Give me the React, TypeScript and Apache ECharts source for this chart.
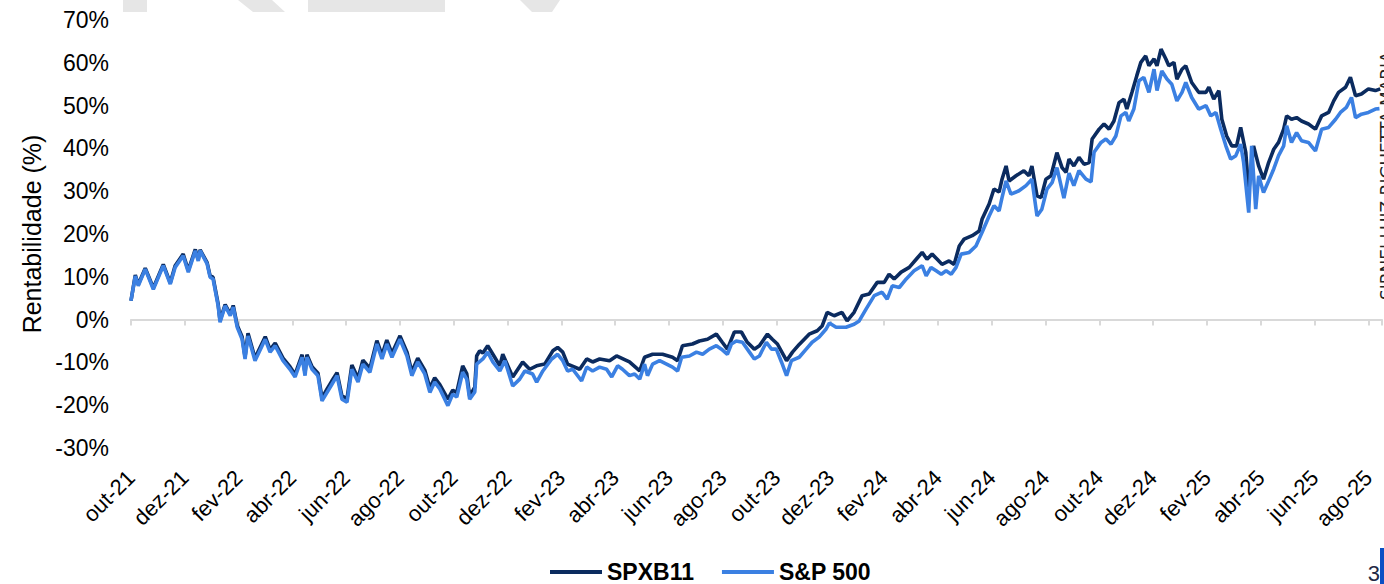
import React, { useEffect, useRef } from "react";
import * as echarts from "echarts";

const FONT = "'Liberation Sans', Arial, sans-serif";

// Tick labels (every two months, starting Oct 2021 = month 0)
const tickLabels = [
  "out-21", "dez-21", "fev-22", "abr-22", "jun-22", "ago-22", "out-22", "dez-22",
  "fev-23", "abr-23", "jun-23", "ago-23", "out-23", "dez-23", "fev-24", "abr-24",
  "jun-24", "ago-24", "out-24", "dez-24", "fev-25", "abr-25", "jun-25", "ago-25",
];

const seriesNames = ["SPXB11", "S&P 500"];

// [months since out-21, return %]
const spxb11Points: [number, number][] = [
  [0.0, 4.4], [0.16, 10.4], [0.27, 8.2], [0.53, 12.0], [0.83, 7.4], [1.2, 12.9], [1.46, 8.6], [1.64, 12.6],
  [1.94, 15.3], [2.13, 11.5], [2.39, 16.4], [2.5, 14.0], [2.57, 16.3], [2.83, 13.3], [2.94, 10.2], [3.05, 9.9],
  [3.24, 3.6], [3.31, -0.2], [3.5, 3.5], [3.69, 1.3], [3.8, 3.3], [3.95, -1.4], [4.13, -4.0], [4.24, -8.7],
  [4.35, -3.2], [4.61, -9.0], [4.99, -4.0], [5.17, -7.0], [5.36, -5.5], [5.65, -9.0], [5.91, -11.0], [6.1, -12.8],
  [6.36, -8.2], [6.47, -12.4], [6.54, -8.2], [6.73, -11.0], [6.95, -12.5], [7.1, -18.3], [7.29, -16.2], [7.47, -14.3],
  [7.66, -12.4], [7.84, -17.8], [8.03, -18.5], [8.21, -10.6], [8.44, -13.7], [8.62, -9.5], [8.88, -11.4], [9.14, -4.9],
  [9.33, -8.3], [9.51, -4.8], [9.7, -7.9], [10.0, -3.8], [10.26, -7.6], [10.44, -12.2], [10.66, -9.0], [10.92, -11.8],
  [11.11, -16.0], [11.29, -13.6], [11.48, -15.2], [11.78, -18.6], [11.96, -16.5], [12.11, -17.0], [12.33, -10.8], [12.48, -12.6],
  [12.59, -17.9], [12.78, -15.8], [12.85, -8.5], [12.96, -7.3], [13.08, -7.8], [13.26, -6.1], [13.52, -8.8], [13.71, -10.8],
  [13.82, -8.1], [14.19, -13.4], [14.56, -9.9], [14.82, -11.6], [15.08, -10.8], [15.38, -10.4], [15.68, -7.3], [15.86, -6.5],
  [16.05, -7.6], [16.23, -10.4], [16.68, -11.6], [16.94, -9.2], [17.16, -9.9], [17.42, -9.2], [17.79, -9.6], [18.05, -8.5],
  [18.53, -9.9], [18.91, -12.0], [19.09, -8.8], [19.39, -8.1], [19.76, -8.1], [20.13, -8.8], [20.32, -9.6], [20.5, -6.1],
  [20.87, -5.7], [21.13, -5.0], [21.43, -4.6], [21.76, -3.4], [21.98, -5.3], [22.17, -6.9], [22.43, -2.9], [22.69, -2.9],
  [22.91, -5.3], [23.17, -6.9], [23.36, -6.1], [23.66, -3.4], [23.84, -4.6], [24.03, -5.7], [24.37, -9.6], [24.59, -7.6],
  [24.84, -5.8], [25.21, -3.4], [25.51, -2.6], [25.69, -1.5], [25.88, 1.7], [26.14, 0.9], [26.43, 1.7], [26.62, -0.3],
  [26.88, 1.7], [27.18, 5.6], [27.44, 6.0], [27.74, 8.7], [28.0, 8.7], [28.18, 10.6], [28.37, 9.5], [28.63, 11.1],
  [28.93, 12.2], [29.19, 14.1], [29.41, 15.7], [29.59, 14.1], [29.78, 15.3], [29.97, 14.1], [30.15, 12.9], [30.41, 13.7],
  [30.6, 12.9], [30.79, 17.2], [30.97, 18.8], [31.27, 19.6], [31.53, 20.7], [31.64, 23.5], [31.9, 27.0], [32.08, 30.5],
  [32.27, 29.8], [32.38, 32.8], [32.53, 35.9], [32.64, 32.4], [32.9, 33.6], [33.19, 34.8], [33.38, 33.6], [33.49, 35.9],
  [33.68, 28.9], [33.83, 28.5], [34.01, 32.8], [34.2, 33.6], [34.42, 39.0], [34.61, 35.5], [34.76, 34.4], [34.87, 37.5],
  [35.05, 35.9], [35.24, 37.9], [35.43, 36.3], [35.62, 36.7], [35.73, 42.2], [35.99, 44.5], [36.17, 45.7], [36.36, 44.5],
  [36.54, 46.4], [36.73, 50.7], [36.91, 51.5], [37.02, 49.2], [37.21, 53.1], [37.39, 57.0], [37.54, 60.1], [37.72, 61.6],
  [37.84, 59.3], [38.03, 60.9], [38.14, 59.3], [38.29, 63.2], [38.47, 60.9], [38.58, 59.3], [38.77, 60.1], [38.88, 56.2],
  [39.07, 58.5], [39.21, 59.3], [39.43, 55.4], [39.69, 53.1], [39.96, 53.1], [40.07, 54.3], [40.25, 51.5], [40.44, 53.5],
  [40.55, 46.8], [40.73, 42.9], [40.92, 40.6], [41.1, 40.6], [41.25, 44.9], [41.44, 39.1], [41.55, 30.0], [41.73, 40.6],
  [41.92, 35.9], [42.1, 32.8], [42.29, 36.7], [42.48, 39.8], [42.66, 41.4], [42.85, 44.5], [42.96, 47.6], [43.14, 46.8],
  [43.33, 47.2], [43.51, 46.4], [43.77, 45.7], [44.03, 44.5], [44.26, 47.6], [44.52, 48.4], [44.71, 51.1], [44.89, 53.1],
  [45.15, 54.3], [45.33, 56.6], [45.52, 52.3], [45.74, 52.7], [46.0, 53.9], [46.26, 53.5], [46.44, 53.9],
];

const sp500Points: [number, number][] = [
  [0.0, 4.4], [0.16, 10.2], [0.27, 7.9], [0.53, 11.8], [0.83, 7.1], [1.2, 12.6], [1.46, 8.3], [1.64, 12.2],
  [1.94, 14.9], [2.13, 11.1], [2.39, 16.1], [2.5, 13.7], [2.57, 16.1], [2.83, 13.0], [2.94, 9.9], [3.05, 9.5],
  [3.24, 3.2], [3.31, -0.6], [3.5, 3.2], [3.69, 0.9], [3.8, 2.9], [3.95, -1.8], [4.13, -4.6], [4.24, -9.2],
  [4.35, -3.8], [4.61, -9.6], [4.99, -4.6], [5.17, -7.6], [5.36, -6.1], [5.65, -9.6], [5.91, -11.6], [6.1, -13.4],
  [6.36, -8.8], [6.47, -13.1], [6.54, -8.8], [6.73, -11.6], [6.95, -13.1], [7.1, -19.0], [7.29, -17.0], [7.47, -15.1],
  [7.66, -13.1], [7.84, -18.6], [8.03, -19.3], [8.21, -11.6], [8.44, -14.6], [8.62, -10.4], [8.88, -12.3], [9.14, -5.7],
  [9.33, -9.2], [9.51, -5.7], [9.7, -8.8], [10.0, -4.6], [10.26, -8.5], [10.44, -13.1], [10.66, -9.9], [10.92, -12.7],
  [11.11, -17.0], [11.29, -14.6], [11.48, -16.2], [11.78, -20.1], [11.96, -17.4], [12.11, -18.1], [12.33, -12.3], [12.48, -13.9],
  [12.59, -18.6], [12.78, -16.9], [12.85, -10.4], [13.08, -9.2], [13.26, -7.6], [13.45, -9.9], [13.71, -12.0], [13.9, -9.6],
  [14.19, -15.5], [14.45, -13.9], [14.64, -12.0], [14.93, -12.7], [15.08, -14.6], [15.31, -12.0], [15.64, -9.2], [15.86, -8.1],
  [16.05, -9.6], [16.23, -12.0], [16.42, -11.6], [16.75, -14.3], [16.94, -11.1], [17.16, -12.0], [17.42, -11.1], [17.68, -11.6],
  [17.87, -13.4], [18.09, -10.8], [18.27, -11.6], [18.53, -13.1], [18.72, -12.7], [18.91, -13.9], [19.09, -10.4], [19.2, -13.1],
  [19.39, -10.4], [19.65, -9.6], [19.91, -10.4], [20.13, -11.1], [20.32, -12.0], [20.47, -8.8], [20.76, -8.5], [21.02, -7.6],
  [21.25, -8.1], [21.5, -6.9], [21.76, -6.1], [21.95, -6.9], [22.17, -8.1], [22.32, -5.7], [22.5, -5.0], [22.73, -5.3],
  [22.99, -7.6], [23.17, -9.2], [23.36, -8.5], [23.62, -5.3], [23.81, -6.9], [23.99, -6.9], [24.18, -9.9], [24.37, -13.1],
  [24.55, -9.6], [24.84, -8.8], [25.1, -6.9], [25.32, -5.3], [25.58, -4.1], [25.84, -2.2], [25.96, -0.8], [26.21, -1.8],
  [26.58, -1.8], [26.88, -1.1], [27.07, -0.3], [27.33, 2.5], [27.63, 5.6], [27.92, 6.4], [28.11, 4.8], [28.3, 7.9],
  [28.56, 7.5], [28.82, 9.5], [29.11, 11.4], [29.41, 12.6], [29.56, 10.2], [29.74, 12.2], [29.93, 11.4], [30.12, 10.6],
  [30.3, 11.4], [30.49, 10.6], [30.67, 12.2], [30.86, 15.3], [31.16, 15.7], [31.41, 17.2], [31.64, 20.4], [31.9, 24.2],
  [32.08, 26.6], [32.27, 25.4], [32.38, 28.5], [32.53, 32.4], [32.71, 29.3], [33.01, 30.1], [33.27, 31.3], [33.49, 32.8],
  [33.68, 24.2], [33.86, 25.8], [34.05, 30.5], [34.24, 32.0], [34.42, 35.5], [34.68, 28.4], [34.87, 34.2], [35.05, 31.3],
  [35.24, 34.8], [35.5, 32.8], [35.69, 32.2], [35.8, 39.1], [36.06, 41.4], [36.24, 42.2], [36.43, 41.0], [36.61, 42.9],
  [36.8, 47.6], [36.98, 48.4], [37.09, 46.4], [37.28, 49.2], [37.47, 55.8], [37.65, 56.6], [37.84, 53.1], [38.03, 58.5],
  [38.14, 53.5], [38.32, 58.1], [38.51, 56.2], [38.69, 55.0], [38.88, 51.1], [39.07, 53.1], [39.21, 55.4], [39.43, 51.9],
  [39.69, 49.2], [39.96, 50.0], [40.14, 47.6], [40.33, 48.4], [40.51, 44.5], [40.7, 40.6], [40.88, 37.5], [41.07, 38.3],
  [41.25, 41.0], [41.36, 36.7], [41.55, 25.0], [41.66, 40.6], [41.81, 25.8], [41.92, 33.6], [42.1, 29.7], [42.29, 32.4],
  [42.48, 35.2], [42.66, 38.3], [42.85, 40.6], [42.96, 45.3], [43.14, 41.4], [43.33, 43.7], [43.51, 41.8], [43.77, 41.4],
  [44.03, 39.4], [44.26, 44.5], [44.52, 44.9], [44.78, 46.8], [44.96, 48.4], [45.18, 49.6], [45.37, 51.9], [45.52, 47.2],
  [45.74, 48.0], [46.0, 48.4], [46.26, 49.2], [46.41, 49.3],
];

const Y_MIN = -30;
const Y_MAX = 70;
const Y_STEP = 10;
const X_MAX = 46.5;

const DARK = "#0b2b5f";
const LIGHT = "#3b80e2";

function xLabel(v: number): string {
  if (Math.abs(v - Math.round(v)) > 1e-6) return "";
  const r = Math.round(v);
  if (r % 2 !== 0) return "";
  return tickLabels[r / 2] ?? "";
}

export default function App() {
  const ref = useRef<HTMLDivElement>(null);

  useEffect(() => {
    if (!ref.current) return;
    const chart = echarts.init(ref.current, null, { renderer: "svg" });
    const valueAxisBase = {
      type: "value" as const,
      min: 0,
      max: X_MAX,
      interval: 2,
      splitLine: { show: false },
    };
    chart.setOption({
      animation: false,
      backgroundColor: "#ffffff",
      textStyle: { fontFamily: FONT },
      grid: { left: 131, right: 0, top: 20, bottom: 136, containLabel: false },
      legend: {
        data: seriesNames,
        left: 545,
        top: 555,
        icon: "rect",
        itemWidth: 52,
        itemHeight: 4,
        itemGap: 28,
        textStyle: { fontFamily: FONT, fontSize: 23, fontWeight: "bold", color: "#000", lineHeight: 24 },
      },
      xAxis: [
        {
          ...valueAxisBase,
          position: "bottom",
          axisLine: { show: true, onZero: true, lineStyle: { color: "#d9d9d9", width: 2 } },
          axisTick: { show: true, length: 6, lineStyle: { color: "#d9d9d9", width: 2 } },
          axisLabel: { show: false },
        },
        {
          ...valueAxisBase,
          position: "bottom",
          axisLine: { show: false, onZero: false },
          axisTick: { show: false },
          axisLabel: {
            show: true,
            rotate: 45,
            margin: 26,
            fontFamily: FONT,
            fontSize: 22,
            color: "#000",
            hideOverlap: false,
            formatter: xLabel,
          },
        },
      ],
      yAxis: {
        type: "value",
        min: Y_MIN,
        max: Y_MAX,
        interval: Y_STEP,
        name: "Rentabilidade (%)",
        nameLocation: "middle",
        nameGap: 87,
        nameTextStyle: { fontFamily: FONT, fontSize: 25, color: "#000" },
        axisLine: { show: false },
        axisTick: { show: false },
        splitLine: { show: false },
        axisLabel: {
          margin: 22,
          fontFamily: FONT,
          fontSize: 23,
          color: "#000",
          formatter: "{value}%",
        },
      },
      series: [
        {
          name: seriesNames[0],
          type: "line",
          xAxisIndex: 0,
          data: spxb11Points,
          showSymbol: false,
          symbol: "none",
          lineStyle: { color: DARK, width: 3.6 },
          itemStyle: { color: DARK },
        },
        {
          name: seriesNames[1],
          type: "line",
          xAxisIndex: 0,
          data: sp500Points,
          showSymbol: false,
          symbol: "none",
          lineStyle: { color: LIGHT, width: 3.6 },
          itemStyle: { color: LIGHT },
        },
      ],
      graphic: [
        { type: "rect", shape: { x: 123, y: 0, width: 24, height: 12 }, style: { fill: "#e6e6e6" }, z: -1 },
        { type: "polygon", shape: { points: [[238, 0], [272, 0], [285, 12], [253, 12]] }, style: { fill: "#e6e6e6" }, z: -1 },
        { type: "rect", shape: { x: 308, y: 0, width: 137, height: 12 }, style: { fill: "#e6e6e6" }, z: -1 },
        { type: "polygon", shape: { points: [[520, 0], [560, 0], [552, 12], [532, 12]] }, style: { fill: "#e6e6e6" }, z: -1 },
        {
          type: "text",
          x: 1378,
          y: 300,
          rotation: Math.PI / 2,
          style: {
            text: "SIRNEI LUIZ RIGUETTA MARIA",
            fill: "#222",
            font: "17px 'DejaVu Sans', sans-serif",
            textAlign: "left",
            textVerticalAlign: "top",
            verticalAlign: "top",
          },
        },
        { type: "rect", shape: { x: 1380, y: 548, width: 4, height: 36 }, style: { fill: "#0a4fc4" } },
        {
          type: "text",
          x: 1380,
          y: 562,
          style: {
            text: "3",
            fill: "#1f2a44",
            font: "22px 'Liberation Sans', Arial, sans-serif",
            textAlign: "right",
            textVerticalAlign: "top",
            verticalAlign: "top",
          },
        },
      ],
    });
    return () => chart.dispose();
  }, []);

  return (
    <div
      ref={ref}
      style={{ position: "absolute", left: 0, top: 0, width: 1384, height: 584, background: "#fff" }}
    />
  );
}
